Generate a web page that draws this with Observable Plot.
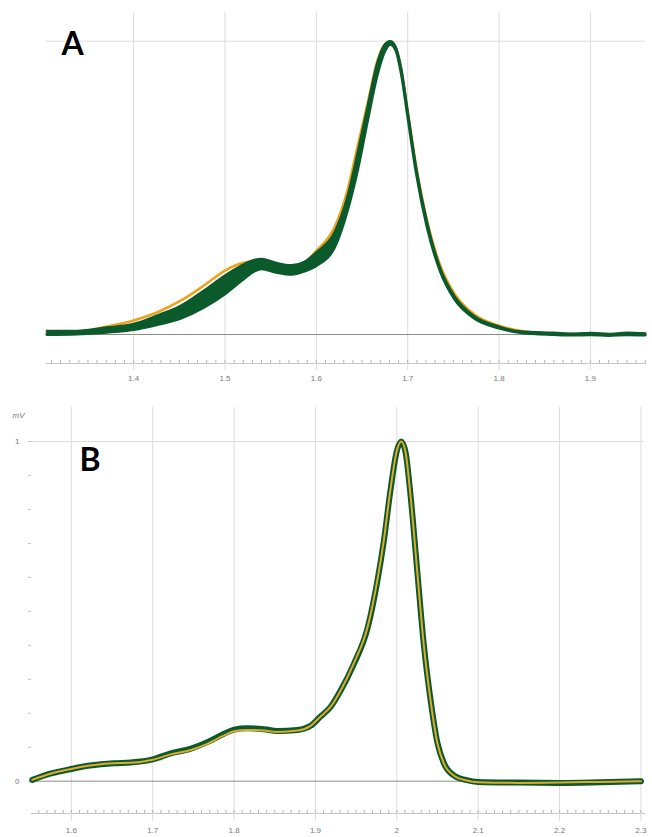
<!DOCTYPE html>
<html><head><meta charset="utf-8">
<script src="https://cdn.jsdelivr.net/npm/d3@7"></script>
<script src="https://cdn.jsdelivr.net/npm/@observablehq/plot@0.6"></script>
<style>
html,body{margin:0;padding:0;background:#fff;overflow:hidden;}
#chart svg{display:block;}
</style></head>
<body><div id="chart"></div>
<script>
// ---------- Panel A data ----------
const retentionA = [1.305,1.338,1.371,1.4,1.426,1.452,1.477,1.5,1.518,1.533,1.54,1.555,1.573,1.587,1.6,1.62,1.634,1.645,1.656,1.667,1.674,1.681,1.6875,1.693,1.7,1.71,1.721,1.736,1.751,1.773,1.8,1.825,1.86,1.88,1.9,1.92,1.94,1.96];
const greenHighA = [0.012,0.012,0.024,0.036,0.065,0.099,0.150,0.201,0.235,0.255,0.258,0.245,0.236,0.248,0.280,0.349,0.469,0.617,0.776,0.929,0.985,1.0,0.975,0.905,0.760,0.555,0.385,0.223,0.132,0.062,0.027,0.010,0.006,0.003,0.005,0.002,0.006,0.004];
const greenLowA  = [0.000,0.002,0.008,0.017,0.034,0.056,0.093,0.139,0.184,0.218,0.224,0.213,0.205,0.216,0.235,0.298,0.423,0.560,0.730,0.890,0.960,0.990,0.965,0.890,0.745,0.540,0.370,0.213,0.122,0.055,0.022,0.006,0.000,-0.002,-0.001,-0.003,-0.001,-0.002];
const orangeA    = [0.004,0.008,0.027,0.048,0.076,0.116,0.167,0.218,0.243,0.250,0.252,0.238,0.232,0.245,0.285,0.366,0.491,0.639,0.787,0.935,0.985,1.0,0.972,0.900,0.760,0.560,0.390,0.232,0.140,0.068,0.030,0.012,0.003,0.002,0.002,0.001,0.002,0.002];
const xTicksA = [1.4,1.5,1.6,1.7,1.8,1.9];

// ---------- Panel B data ----------
const retentionB = [1.552,1.574,1.6,1.623,1.652,1.673,1.7,1.722,1.747,1.767,1.787,1.8,1.816,1.837,1.853,1.878,1.894,1.906,1.919,1.931,1.947,1.964,1.976,1.984,1.992,2.0,2.0055,2.011,2.017,2.025,2.033,2.042,2.05,2.058,2.07,2.086,2.1,2.15,2.2,2.25,2.3];
const greenB  = [0.004,0.022,0.036,0.046,0.053,0.055,0.064,0.082,0.096,0.115,0.139,0.152,0.156,0.153,0.148,0.151,0.163,0.190,0.220,0.267,0.344,0.450,0.588,0.706,0.853,0.972,1.0,0.965,0.838,0.622,0.406,0.230,0.112,0.052,0.017,0.003,-0.002,-0.004,-0.005,-0.003,0.0];
const orangeB = [0.004,0.022,0.036,0.046,0.053,0.054,0.063,0.079,0.092,0.110,0.134,0.147,0.151,0.149,0.145,0.149,0.163,0.190,0.220,0.267,0.346,0.453,0.591,0.709,0.856,0.973,1.0,0.964,0.836,0.620,0.404,0.228,0.110,0.051,0.017,0.002,-0.003,-0.005,-0.004,-0.002,0.0];
const xTicksB = [1.6,1.7,1.8,1.9,2,2.1,2.2,2.3];
const yTicksB = [0,1];
const yUnitB = "mV";
const panelLabels = ["A","B"];

// ---------- styling ----------
const GREEN = "#0b5a2c", ORANGE = "#efa21c", ORANGE_B = "#e2a82c";
const GRID = "#dcdcdc", BASE = "#8c8c8c", AXIS = "#c8c8c8", TICKTXT = "#777";
const curve = "monotone-x";
const fmt = d => String(d);

const tableA = retentionA.map((t,i)=>({t, hi:greenHighA[i], lo:greenLowA[i], or:orangeA[i]}));
const tableB = retentionB.map((t,i)=>({t, g:greenB[i], o:orangeB[i]}));

const domA = [1.3046, 1.9603];
const domB = [1.551, 2.3044];
const minorA = d3.ticks(domA[0], domA[1], 66).filter(v => v > domA[0] && v < domA[1]);
const minorB = d3.ticks(domB[0], domB[1], 76).filter(v => v > domB[0] && v < domB[1]);
const minorYB = d3.ticks(0, 1, 10);

const font = {fontFamily:"'Liberation Sans', Arial, sans-serif", fontSize:"8px", background:"white"};

const plotA = Plot.plot({
  width:652, height:395,
  marginLeft:46, marginRight:7, marginTop:12, marginBottom:32,
  style:font,
  x:{domain:domA, label:null},
  y:{domain:[0,1], range:[334,40.7], axis:null, label:null},
  marks:[
    Plot.gridX(xTicksA, {stroke:GRID, strokeOpacity:1}),
    Plot.ruleY([1], {stroke:GRID}),
    Plot.ruleY([0], {stroke:BASE}),
    Plot.frame({anchor:"bottom", stroke:AXIS}),
    Plot.axisX(minorA, {tickSize:-3, stroke:"#b5b5b5", fill:"none", label:null}),
    Plot.axisX(xTicksA, {tickSize:7, stroke:GRID, fill:"none", label:null}),
    Plot.axisX(xTicksA, {tickSize:0, tickPadding:12, fill:TICKTXT, label:null, fontSize:8, tickFormat:fmt}),
    Plot.line(tableA, {x:"t", y:"or", stroke:ORANGE, strokeWidth:2.6, curve}),
    Plot.areaY(tableA, {x:"t", y1:"lo", y2:"hi", fill:GREEN, curve}),
    Plot.line(tableA, {x:"t", y:"hi", stroke:GREEN, strokeWidth:2.4, curve}),
    Plot.line(tableA, {x:"t", y:"lo", stroke:GREEN, strokeWidth:3, curve}),
    Plot.text([panelLabels[0]], {frameAnchor:"top-left", textAnchor:"start", lineAnchor:"middle", dx:15, dy:32, fontSize:32, fontWeight:"bold", fontFamily:"Lato, 'Open Sans', sans-serif", fill:"black"})
  ]
});

const plotB = Plot.plot({
  width:652, height:442,
  marginLeft:31, marginRight:8, marginTop:12, marginBottom:24,
  style:font,
  x:{domain:domB, label:null},
  y:{domain:[0,1], range:[385.7,46], label:null},
  marks:[
    Plot.gridX(xTicksB, {stroke:GRID, strokeOpacity:1}),
    Plot.ruleY([1], {stroke:GRID}),
    Plot.ruleY([0], {stroke:BASE}),
    Plot.frame({anchor:"bottom", stroke:AXIS}),
    Plot.axisX(minorB, {tickSize:-3, stroke:"#b5b5b5", fill:"none", label:null}),
    Plot.axisX(xTicksB, {tickSize:8, stroke:GRID, fill:"none", label:null}),
    Plot.axisX(xTicksB, {tickSize:0, tickPadding:14, fill:TICKTXT, label:null, fontSize:8, tickFormat:fmt}),
    Plot.axisY(minorYB, {tickSize:3, stroke:"#c0c0c0", fill:"none", label:null}),
    Plot.axisY(yTicksB, {tickSize:0, tickPadding:12, fill:TICKTXT, label:null, fontSize:8, tickFormat:fmt}),
    Plot.text([yUnitB], {frameAnchor:"top-left", textAnchor:"middle", lineAnchor:"middle", dx:-13, dy:8, fontSize:8, fontStyle:"italic", fill:TICKTXT}),
    Plot.line(tableB, {x:"t", y:"g", stroke:GREEN, strokeWidth:6, curve}),
    Plot.line(tableB, {x:"t", y:"o", stroke:ORANGE_B, strokeWidth:2, curve}),
    Plot.text([panelLabels[1]], {frameAnchor:"top-left", textAnchor:"start", lineAnchor:"middle", dx:48, dy:53, fontSize:32, fontWeight:"bold", fontFamily:"Lato, 'Open Sans', sans-serif", fill:"black"})
  ]
});

const root = document.getElementById("chart");
root.appendChild(plotA);
root.appendChild(plotB);
</script>
</body></html>
